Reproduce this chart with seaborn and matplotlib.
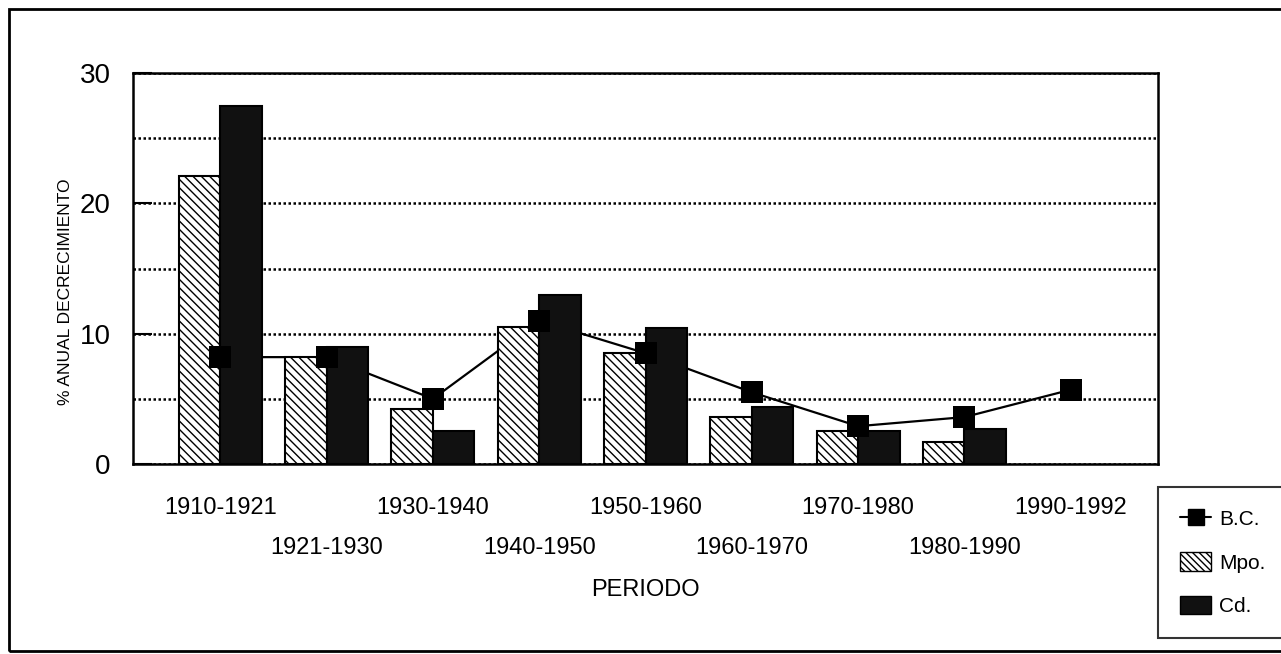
import numpy as np
import pandas as pd
import matplotlib
matplotlib.use("Agg")
import matplotlib.pyplot as plt
from matplotlib.patches import Patch, Rectangle
from matplotlib.lines import Line2D
import seaborn as sns

periods = ["1910-1921", "1921-1930", "1930-1940", "1940-1950", "1950-1960",
           "1960-1970", "1970-1980", "1980-1990", "1990-1992"]
bc = [8.2, 8.2, 5.0, 11.0, 8.5, 5.5, 2.9, 3.6, 5.7]
mpo = [22.1, 8.2, 4.2, 10.5, 8.5, 3.6, 2.5, 1.7, np.nan]
cd = [27.5, 9.0, 2.5, 13.0, 10.4, 4.4, 2.5, 2.7, np.nan]
series_names = ["B.C.", "Mpo.", "Cd."]
yticks = [0, 10, 20, 30]

sns.set_theme(style="white")
plt.rcParams['font.family'] = ['Liberation Sans', 'DejaVu Sans']
plt.rcParams['hatch.linewidth'] = 1.0
plt.rcParams['text.color'] = 'black'
plt.rcParams['ytick.color'] = 'black'
plt.rcParams['xtick.color'] = 'black'

W, H = 1281, 654
fig = plt.figure(figsize=(W / 100, H / 100), dpi=100)
ax = fig.add_axes([133 / W, 1 - 464 / H, (1158 - 133) / W, (464 - 73) / H])

df = pd.DataFrame({
    "periodo": periods * 2,
    "valor": mpo + cd,
    "serie": [series_names[1]] * len(periods) + [series_names[2]] * len(periods),
})
sns.barplot(data=df, x="periodo", y="valor", hue="serie", order=periods,
            hue_order=series_names[1:], palette=["white", "#111111"],
            width=0.78, gap=0, edgecolor="black", linewidth=1.5,
            legend=False, ax=ax, saturation=1)
n = len(periods)
for p in ax.patches:
    p.set_zorder(2)
    if p.get_facecolor()[0] > 0.5:
        p.set_hatch("\\\\\\\\")

idx = np.arange(n)
sns.lineplot(x=idx, y=bc, color="black", linewidth=1.6, ax=ax, zorder=1.5)
sns.scatterplot(x=idx, y=bc, marker="s", s=260, color="black", ax=ax,
                zorder=3, linewidth=0)

ax.set_xlim(-0.82, n - 1 + 0.82)
ax.set_ylim(0, 30)
ax.set_yticks(yticks)
ax.set_yticklabels([str(t) for t in yticks], fontsize=20)
ax.set_yticks([5, 15, 25], minor=True)
ax.yaxis.grid(True, which="both", color="black", linestyle=(0, (1, 1)), linewidth=1.8)
ax.xaxis.grid(False)
ax.set_axisbelow(True)
ax.tick_params(axis="y", which="major", direction="in", length=14, width=1.5,
               left=True, pad=16, labelsize=20, labelcolor="black")
ax.tick_params(axis="y", which="minor", length=0)
ax.set_xticks(idx)
ax.set_xticklabels([])
ax.tick_params(axis="x", length=0)
for i, lab in enumerate(periods):
    off = 44 if i % 2 == 0 else 84
    ax.annotate(lab, xy=(i, 0), xycoords="data", xytext=(0, -off),
                textcoords="offset pixels", ha="center", va="center",
                fontsize=17, color="black")
ax.set_xlabel("")
ax.set_ylabel("")
fig.text(645 / W, 1 - 590 / H, "PERIODO", ha="center", va="center",
         fontsize=17, color="black")
fig.text(66 / W, 1 - 292 / H, "% ANUAL DECRECIMIENTO", ha="center", va="center",
         rotation=90, fontsize=12.5, color="black")
for s in ax.spines.values():
    s.set_color("black")
    s.set_linewidth(1.8)

handles = [
    Line2D([0], [0], color="black", lw=1.5, marker="s", markersize=12),
    Patch(facecolor="white", edgecolor="black", hatch="\\\\\\\\\\"),
    Patch(facecolor="#111111", edgecolor="black"),
]
leg = fig.legend(handles, series_names, loc="upper left",
                 bbox_to_anchor=(1158 / W, 1 - 487 / H), frameon=True,
                 fancybox=False, fontsize=15, handlelength=1.5,
                 handleheight=1.0,
                 borderpad=1.05, labelspacing=1.1, handletextpad=0.4,
                 borderaxespad=0)
leg.get_frame().set_edgecolor("black")
leg.get_frame().set_linewidth(1.5)
for t in leg.get_texts():
    t.set_color("black")

fig.patches.append(Rectangle((9 / W, 1 - 651 / H), (W + 20) / W, (651 - 9) / H,
                             transform=fig.transFigure, fill=False,
                             edgecolor="black", linewidth=2))

fig.savefig("out.png", dpi=100)
